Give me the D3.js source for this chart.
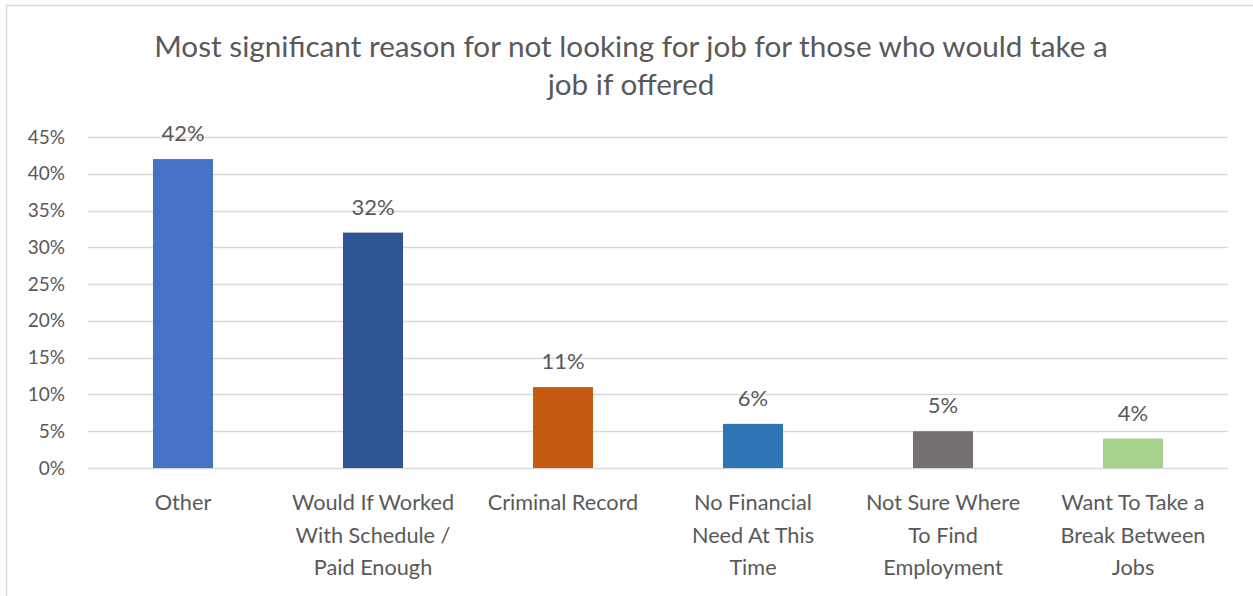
<!DOCTYPE html>
<html>
<head>
<meta charset="utf-8">
<script src="https://cdn.jsdelivr.net/npm/d3@7"></script>
<style>
  html, body { margin: 0; padding: 0; background: #fff; }
  svg { display: block; font-family: Lato, "Open Sans", sans-serif; }
</style>
</head>
<body>
<svg id="chart" width="1253" height="596"></svg>
<script>
// Survey responses: most significant reason for not looking for a job
const categories = [
  "Other",
  "Would If Worked With Schedule / Paid Enough",
  "Criminal Record",
  "No Financial Need At This Time",
  "Not Sure Where To Find Employment",
  "Want To Take a Break Between Jobs"
];
const shares = [0.42, 0.32, 0.11, 0.06, 0.05, 0.04];
const barColors = ["#4472C4", "#2F5597", "#C55A11", "#2E75B6", "#767171", "#A9D18E"];
const yTicks = [0, 0.05, 0.10, 0.15, 0.20, 0.25, 0.30, 0.35, 0.40, 0.45];
const titleLines = [
  "Most significant reason for not looking for job for those who would take a",
  "job if offered"
];

const svg = d3.select("#chart");
const W = 1253, H = 596;
const textColor = "#595959";
const gridColor = "#D9D9D9";

// chart frame
svg.append("rect")
  .attr("x", 6.5).attr("y", 5.5)
  .attr("width", W).attr("height", H)
  .attr("fill", "none")
  .attr("stroke", gridColor)
  .attr("stroke-width", 1.5);

const plot = { left: 88, right: 1228, top: 137, bottom: 468 };

const x = d3.scaleBand()
  .domain(categories)
  .range([plot.left, plot.right])
  .paddingInner(0.684)
  .paddingOuter(0.342);

const y = d3.scaleLinear()
  .domain([0, 0.45])
  .range([plot.bottom, plot.top]);

// title
svg.append("text")
  .attr("x", 631)
  .attr("y", 57)
  .attr("text-anchor", "middle")
  .attr("fill", textColor)
  .attr("font-size", 29.7)
  .selectAll("tspan")
  .data(titleLines)
  .join("tspan")
  .attr("x", 631)
  .attr("dy", (d, i) => i === 0 ? 0 : 38)
  .text(d => d);

// horizontal gridlines
svg.append("g")
  .selectAll("line")
  .data(yTicks)
  .join("line")
  .attr("x1", plot.left).attr("x2", plot.right)
  .attr("y1", d => Math.round(y(d)) + 0.5)
  .attr("y2", d => Math.round(y(d)) + 0.5)
  .attr("stroke", gridColor)
  .attr("stroke-width", 1.5);

// y axis labels
const yAxis = d3.axisLeft(y)
  .tickValues(yTicks)
  .tickFormat(d3.format(".0%"))
  .tickSize(0)
  .tickPadding(0);

const yAxisG = svg.append("g")
  .attr("transform", "translate(65,0)")
  .call(yAxis);
yAxisG.select(".domain").remove();
yAxisG.selectAll("text")
  .attr("fill", textColor)
  .attr("font-size", 19)
  .attr("font-family", "Lato, 'Open Sans', sans-serif");

// bars
svg.append("g")
  .selectAll("rect")
  .data(categories)
  .join("rect")
  .attr("x", d => x(d))
  .attr("width", x.bandwidth())
  .attr("y", (d, i) => y(shares[i]))
  .attr("height", (d, i) => y(0) - y(shares[i]))
  .attr("fill", (d, i) => barColors[i]);

// value labels
svg.append("g")
  .selectAll("text")
  .data(categories)
  .join("text")
  .attr("x", d => x(d) + x.bandwidth() / 2)
  .attr("y", (d, i) => y(shares[i]) - 18)
  .attr("text-anchor", "middle")
  .attr("fill", textColor)
  .attr("font-size", 22)
  .text((d, i) => d3.format(".0%")(shares[i]));

// category axis labels, wrapped to the band
const xAxis = d3.axisBottom(x).tickSize(0).tickPadding(0);
const xAxisG = svg.append("g")
  .attr("transform", `translate(0,${plot.bottom})`)
  .call(xAxis);
xAxisG.select(".domain").remove();
xAxisG.selectAll("text")
  .attr("fill", textColor)
  .attr("font-size", 21.7)
  .attr("font-family", "Lato, 'Open Sans', sans-serif")
  .attr("y", 0)
  .attr("dy", null)
  .each(function (d) { wrap(d3.select(this), 172); });

function wrap(text, width) {
  const words = text.text().split(/\s+/);
  text.text(null);
  let line = [];
  let lineNo = 0;
  let tspan = text.append("tspan").attr("x", 0).attr("y", 42);
  for (const w of words) {
    line.push(w);
    tspan.text(line.join(" "));
    if (tspan.node().getComputedTextLength() > width && line.length > 1) {
      line.pop();
      tspan.text(line.join(" "));
      line = [w];
      lineNo++;
      tspan = text.append("tspan").attr("x", 0).attr("y", 42 + lineNo * 32.5).text(w);
    }
  }
}
</script>
</body>
</html>
